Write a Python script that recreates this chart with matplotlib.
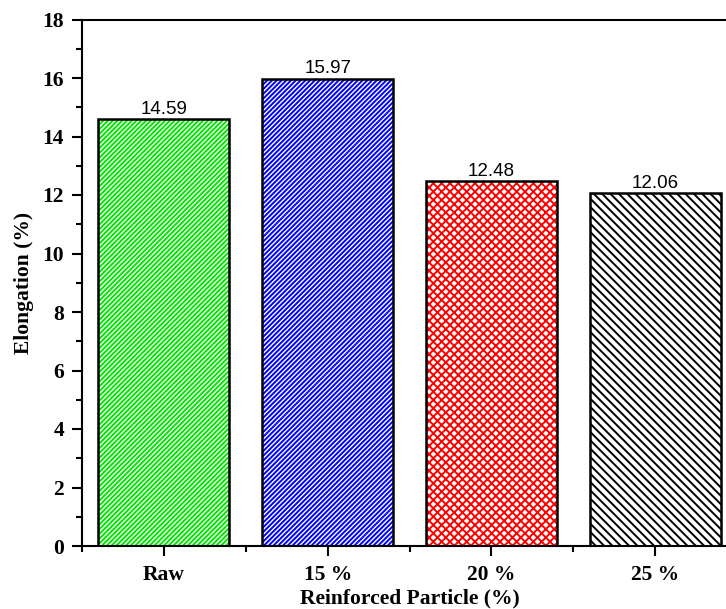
import matplotlib.pyplot as plt
import numpy as np

# data
categories = ['Raw', '15 %', '20 %', '25 %']
elongation = [14.59, 15.97, 12.48, 12.06]
bar_colors = ['#00e600', '#0000ff', '#ff0000', '#000000']
hatches = ['///////', '///////', 'xxxx', '\\\\\\\\']

plt.rcParams['hatch.linewidth'] = 1.4

fig = plt.figure(figsize=(7.26, 6.09), dpi=100)
# right edge of the axes runs off the figure like in the original
ax = fig.add_axes([82 / 726, 63 / 609, 655 / 726, 526.5 / 609])

x = np.arange(len(categories))
# hatch layer in colour, then black outline on top
ax.bar(x, elongation, width=0.8, color='white', edgecolor=bar_colors,
       hatch=hatches, linewidth=0)
ax.bar(x, elongation, width=0.8, fill=False, edgecolor='black', linewidth=1.8)

for xi, v in zip(x, elongation):
    ax.annotate(f'{v:.2f}', (xi, v), xytext=(0, 1), textcoords='offset points',
                ha='center', va='bottom', fontsize=13.5, family='Liberation Sans')

ax.set_xlim(-0.5, 3.5)
ax.set_ylim(0, 18)
ax.set_yticks(np.arange(0, 19, 2))
ax.set_yticks(np.arange(1, 18, 2), minor=True)
ax.set_xticks(x)
ax.set_xticks(np.arange(-0.5, 3.6, 1), minor=True)
ax.set_xticklabels(categories)

tick_font = dict(family='Liberation Serif', weight='bold', size=15.5)
for lab in ax.get_xticklabels() + ax.get_yticklabels():
    lab.set_fontproperties(tick_font)

ax.tick_params(which='major', direction='out', length=7, width=1.5, pad=6)
ax.tick_params(which='minor', direction='out', length=4.5, width=1.5)
ax.tick_params(axis='x', which='major', pad=7)
for s in ax.spines.values():
    s.set_linewidth(1.5)

ax.set_xlabel('Reinforced Particle (%)', fontdict=tick_font, labelpad=2)
ax.set_ylabel('Elongation (%)', fontdict=tick_font, labelpad=6)

fig.savefig('out.png', dpi=100)
